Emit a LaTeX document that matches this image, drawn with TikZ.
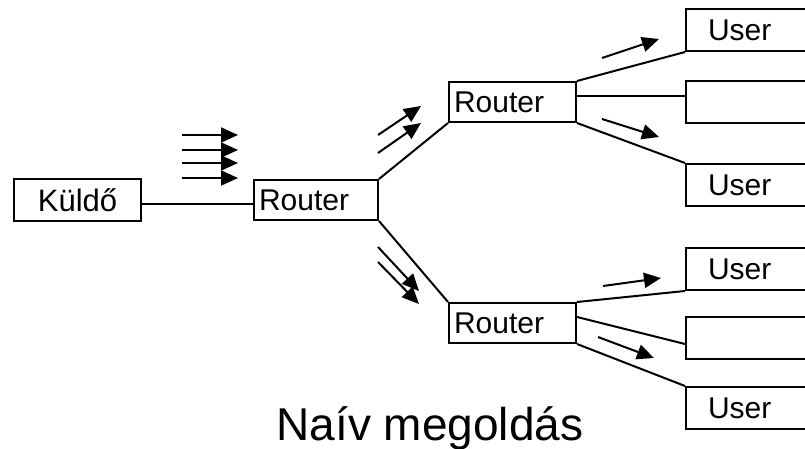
\documentclass[tikz,border=0pt]{standalone}
\usepackage{fontspec}
\setmainfont{Liberation Sans}
\usetikzlibrary{arrows.meta}
\tikzset{
  box/.style={draw, line width=2pt, anchor=north west, inner ysep=0pt, font=\fontsize{30}{34}\selectfont},
  routerbox/.style={box, minimum width=124pt, minimum height=40pt, text width=114pt, inner xsep=5pt, align=left},
  userbox/.style={box, minimum width=145pt, minimum height=42pt, text width=101pt, inner xsep=22pt, align=left},
  link/.style={line width=2pt},
  flow/.style={line width=2pt, -{Triangle[length=17pt,width=15pt]}},
}
\begin{document}
\begin{tikzpicture}[x=1pt,y=-1pt]
\useasboundingbox (0,0) rectangle (805,449);
% nodes
\node[box, minimum width=127pt, minimum height=42pt, inner xsep=0pt, font=\fontsize{31}{34}\selectfont] (kuldo) at (13,178) {Küldő};
\node[routerbox] (r1) at (253,179) {Router};
\node[routerbox, minimum width=127pt, text width=117pt] (r2) at (448,81) {Router};
\node[routerbox, minimum width=127pt, text width=117pt] (r3) at (448,302) {Router};
\node[userbox] (u1) at (685,8) {User};
\node[userbox] (u2) at (685,80) {};
\node[userbox] (u3) at (685,163) {User};
\node[userbox] (u4) at (685,247) {User};
\node[userbox] (u5) at (685,316) {};
\node[userbox] (u6) at (685,386) {User};
\node[font=\fontsize{46}{50}\selectfont, anchor=base] (title) at (430,440) {Naív megoldás};
% links
\draw[link] ([yshift=-4pt]kuldo.east) -- ([yshift=-4pt]r1.west);
\draw[link] (r1.north east) -- (r2.south west);
\draw[link] (r1.south east) -- (r3.north west);
\draw[link] (r2.north east) -- (u1.south west);
\draw[link] ([yshift=6pt]r2.east) -- ([yshift=6pt]u2.west);
\draw[link] (r2.south east) -- (u3.north west);
\draw[link] (r3.north east) -- (u4.south west);
\draw[link] ([yshift=6pt]r3.east) -- ([yshift=-6pt]u5.west);
\draw[link] (r3.south east) -- (u6.north west);
% flow arrows
\foreach \i/\y in {1/135,2/150,3/163,4/178}{
  \coordinate (fa\i) at (182,\y);
  \coordinate (fb\i) at (238,\y);
  \draw[flow] (fa\i) -- (fb\i);
}
\coordinate (a1s) at (378,135); \coordinate (a1e) at (421,106);
\coordinate (a2s) at (378,153); \coordinate (a2e) at (421,123);
\coordinate (a3s) at (378,247); \coordinate (a3e) at (419,291);
\coordinate (a4s) at (378,262); \coordinate (a4e) at (419,304);
\coordinate (a5s) at (602,58);  \coordinate (a5e) at (659,39);
\coordinate (a6s) at (602,119); \coordinate (a6e) at (659,137);
\coordinate (a7s) at (603,286); \coordinate (a7e) at (661,278);
\coordinate (a8s) at (598,337); \coordinate (a8e) at (654,358);
\foreach \k in {1,...,8}{
  \draw[flow] (a\k s) -- (a\k e);
}
\end{tikzpicture}
\end{document}
